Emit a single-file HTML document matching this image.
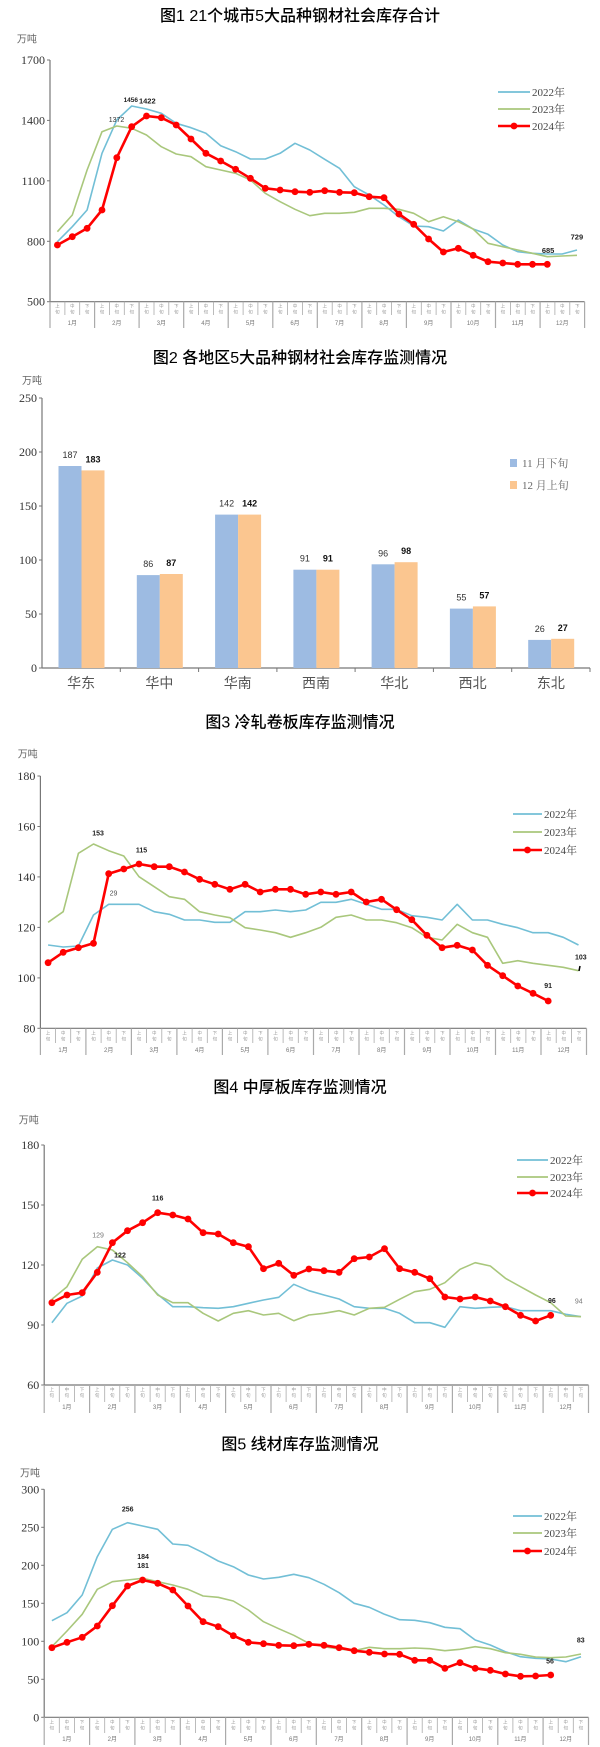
<!DOCTYPE html>
<html><head><meta charset="utf-8"><style>
html,body{margin:0;padding:0;background:#fff;width:600px;height:1747px;overflow:hidden}
svg{display:block}
</style></head><body>
<svg id="s" width="600" height="1747" xmlns="http://www.w3.org/2000/svg"></svg>
<script>
var S=[];
var SERIF='"Liberation Serif","Noto Serif CJK SC",serif';
var SANS='"Liberation Sans","Noto Sans CJK SC",sans-serif';
function t(x,y,txt,sz,col,anchor,fam,wt,extra){S.push('<text x="'+x.toFixed(1)+'" y="'+y.toFixed(1)+'" font-size="'+sz+'" fill="'+col+'" text-anchor="'+(anchor||'start')+'" font-family=\''+(fam||SERIF)+'\''+(wt?' font-weight="'+wt+'"':'')+(extra||'')+'>'+txt+'</text>');}
function L(x1,y1,x2,y2,c,w){S.push('<line x1="'+x1.toFixed(1)+'" y1="'+y1.toFixed(1)+'" x2="'+x2.toFixed(1)+'" y2="'+y2.toFixed(1)+'" stroke="'+c+'" stroke-width="'+w+'"/>');}
var C22='#72bfd6',C23='#a9c77c',C24='#ff0000';
function chart(c){
  var X=function(z){return z/2.6;}, Y=function(z){return c.y0+z/3;};
  t(300,Y(c.titleY)+6,c.title,16,'#000','middle',SANS,'500');
  t(X(c.unit[0]),Y(c.unit[1])+4,'万吨',10,'#666','middle',SANS);
  var ax0=X(c.ax0),ax1=X(c.ax1),yT=Y(c.yTop),yB=Y(c.yBot);
  L(ax0,yT,ax0,yB,'#777',1.2);L(ax0,yB,ax1,yB,'#777',1.2);
  var n=c.ticks.length;
  for(var i=0;i<n;i++){var yy=yB-(yB-yT)*i/(n-1);L(ax0-3,yy,ax0,yy,'#777',1);t(ax0-5,yy+4,c.ticks[i],12,'#333','end');}
  var sw=(ax1-ax0)/36, sl=c.slotB, mb=c.monthB;
  var nm=['上','中','下'];
  for(var k=0;k<=36;k++){var xx=ax0+k*sw;L(xx,yB,xx,(k%3==0)?mb:sl,'#aaa',k%3==0?1.2:0.8);}
  for(var k=0;k<36;k++){var xc=ax0+(k+0.5)*sw;t(xc,yB+6,nm[k%3],4.5,'#999','middle',SANS);t(xc,yB+12,'旬',4.5,'#999','middle',SANS);}
  for(var m=0;m<12;m++){t(ax0+(m*3+1.5)*sw,c.monthY,(m+1)+'月',6,'#777','middle',SANS);}
  function path(d,col,w){var p='';for(var i=0;i<d.length;i++){p+=(i?'L':'M')+X(c.x0+c.dx*i).toFixed(1)+' '+Y(d[i]).toFixed(1);}S.push('<path d="'+p+'" fill="none" stroke="'+col+'" stroke-width="'+w+'" stroke-linejoin="round"/>');}
  path(c.s22,C22,1.6);path(c.s23,C23,1.6);path(c.s24,C24,2.6);
  for(var i=0;i<c.s24.length;i++){S.push('<circle cx="'+X(c.x0+c.dx*i).toFixed(1)+'" cy="'+Y(c.s24[i]).toFixed(1)+'" r="3.4" fill="'+C24+'"/>');}
  c.labels.forEach(function(l){t(X(l[1]),Y(l[2])+3,l[0],l[3]||8,l[4]||'#222','middle',SANS,l[5]||'bold');});
  var g=c.leg;var cols=[C22,C23,C24],nms=['2022年','2023年','2024年'];
  for(var i=0;i<3;i++){var yy=g.ys[i];L(g.a,yy,g.b,yy,cols[i],i==2?2.6:1.8);if(i==2)S.push('<circle cx="'+((g.a+g.b)/2)+'" cy="'+yy+'" r="3.4" fill="'+C24+'"/>');t(g.b+2,yy+4,nms[i],11,'#444','start');}
}
// Chart 1
chart({y0:0,title:'图1 21个城市5大品种钢材社会库存合计',titleY:45,unit:[70,115],ax0:130,ax1:1520,yTop:180,yBot:905,
ticks:['500','800','1100','1400','1700'],slotB:315,monthB:328,monthY:325,x0:149.3,dx:38.6,
s24:[735,710,685,630,473,380,348,353,375,417,460,483,508,535,565,570,575,577,572,577,578,590,593,642,673,717,756,745,766,785,789,793,793,793],
s22:[725,680,630,460,360,318,327,340,370,383,400,437,455,477,477,460,430,450,478,505,560,585,615,650,678,680,693,660,687,703,735,755,760,762,762,750],
s23:[695,645,510,395,378,385,405,440,462,470,500,510,520,540,580,605,628,647,640,640,637,625,625,628,640,665,650,665,687,730,740,750,760,770,768,766],
labels:[['1456',340,297,6.5],['1422',383,302,7.5],['1372',303,357,7,'#333','normal'],['729',1500,710,7.5],['685',1425,750,7.5]],
leg:{a:498,b:530,ys:[92,109,126]}});
// Chart 2
(function(){
  t(300,363,'图2 各地区5大品种钢材社会库存监测情况',16,'#000','middle',SANS,'500');
  t(32,384,'万吨',10,'#666','middle',SANS);
  var ax0=42,ax1=590,yT=398,yB=668;
  L(ax0,yT,ax0,yB,'#777',1.2);L(ax0,yB,ax1,yB,'#777',1.2);
  for(var i=0;i<=5;i++){var yy=yB-(yB-yT)*i/5;L(ax0-3,yy,ax0,yy,'#777',1);t(ax0-5,yy+4,String(i*50),12,'#333','end');}
  var cats=['华东','华中','华南','西南','华北','西北','东北'],a=[187,86,142,91,96,55,26],b=[183,87,142,91,98,57,27];
  var cw=(ax1-ax0)/7,k=(yB-yT)/250;
  for(var i=0;i<7;i++){var c0=ax0+i*cw;L(c0+cw,yB,c0+cw,yB+4,'#777',1);var xb=c0+16.5;
   S.push('<rect x="'+xb.toFixed(1)+'" y="'+(yB-a[i]*k).toFixed(1)+'" width="23" height="'+(a[i]*k).toFixed(1)+'" fill="#9dbbe2"/>');
   S.push('<rect x="'+(xb+23).toFixed(1)+'" y="'+(yB-b[i]*k).toFixed(1)+'" width="23" height="'+(b[i]*k).toFixed(1)+'" fill="#fbc690"/>');
   t(xb+11.5,yB-a[i]*k-8,a[i],9,'#333','middle',SANS);
   t(xb+34.5,yB-b[i]*k-8,b[i],9,'#111','middle',SANS,'bold');
   t(c0+cw/2,688,cats[i],14,'#555','middle',SANS);}
  S.push('<rect x="510" y="459" width="7" height="8" fill="#9dbbe2"/><rect x="510" y="481" width="7" height="8" fill="#fbc690"/>');
  t(522,467,'11 月下旬',11,'#666','start');t(522,489,'12 月上旬',11,'#666','start');
})();
// Chart 3
chart({y0:690,title:'图3 冷轧卷板库存监测情况',titleY:95,unit:[72,190],ax0:105,ax1:1525,yTop:258,yBot:1015,
ticks:['80','100','120','140','160','180'],slotB:1043,monthB:1055,monthY:1052,x0:125,dx:39.4,
s24:[818,787,773,760,551,537,522,530,530,546,568,583,598,583,606,598,598,613,606,613,606,636,628,659,689,736,773,766,780,826,857,888,910,933],
s22:[765,771,768,675,643,643,643,665,673,690,690,697,697,665,665,660,665,660,637,637,628,643,658,658,677,682,690,643,690,690,703,713,728,728,742,765],
s23:[697,665,490,462,482,498,560,590,620,628,665,675,683,713,720,728,742,728,712,682,675,690,690,698,713,742,750,703,728,742,820,812,820,826,832,842],
labels:[['153',255,428,7],['115',368,478,7],['29',295,608,7,'#555','normal'],['103',1510,800,7],['91',1425,885,7]],
leg:{a:513,b:542,ys:[814,832,850]}});
L(580,966,579,971,'#000',1.5);
// Chart 4
chart({y0:1060,title:'图4 中厚板库存监测情况',titleY:80,unit:[75,178],ax0:115,ax1:1530,yTop:255,yBot:975,
ticks:['60','90','120','150','180'],slotB:1402,monthB:1413,monthY:1409,x0:135,dx:39.3,
s24:[728,705,698,637,548,512,488,458,465,477,518,522,548,560,626,610,646,627,632,637,596,591,566,626,637,656,711,717,711,723,740,766,783,766],
s22:[788,730,708,624,600,615,655,703,740,740,743,745,740,730,720,712,673,692,705,717,740,745,745,760,788,788,802,740,745,742,740,752,752,752,763,770],
s23:[718,680,598,560,570,608,650,705,728,728,760,783,760,752,765,760,782,765,760,752,765,745,742,718,695,688,668,628,608,618,655,680,705,728,768,770],
labels:[['129',255,524,7,'#777','normal'],['122',312,583,7],['116',410,412,7],['96',1435,720,7],['94',1505,722,7,'#777','normal']],
leg:{a:517,b:548,ys:[1160,1177,1193]}});
// Chart 5
chart({y0:1400,title:'图5 线材库存监测情况',titleY:130,unit:[78,217],ax0:115,ax1:1530,yTop:268,yBot:952,
ticks:['0','50','100','150','200','250','300'],slotB:1733,monthB:1745,monthY:1741,x0:135,dx:39.3,
s24:[743,727,712,678,617,558,540,550,570,618,665,680,707,727,731,736,737,733,736,743,752,757,762,763,781,781,805,788,805,811,822,829,828,825],
s22:[662,638,585,470,388,368,378,388,432,436,458,483,500,525,537,532,523,533,553,578,610,622,643,659,661,668,682,686,720,735,755,770,775,777,785,770],
s23:[740,693,643,568,545,540,535,545,555,568,588,592,603,630,665,686,706,730,740,747,752,742,746,746,744,746,752,748,740,746,758,763,771,773,771,762],
labels:[['256',332,325,7],['184',372,468,7],['181',372,495,7],['83',1510,718,7],['56',1430,782,7]],
leg:{a:513,b:542,ys:[1516,1533,1551]}});
document.getElementById('s').innerHTML=S.join('');
</script>
</body></html>
